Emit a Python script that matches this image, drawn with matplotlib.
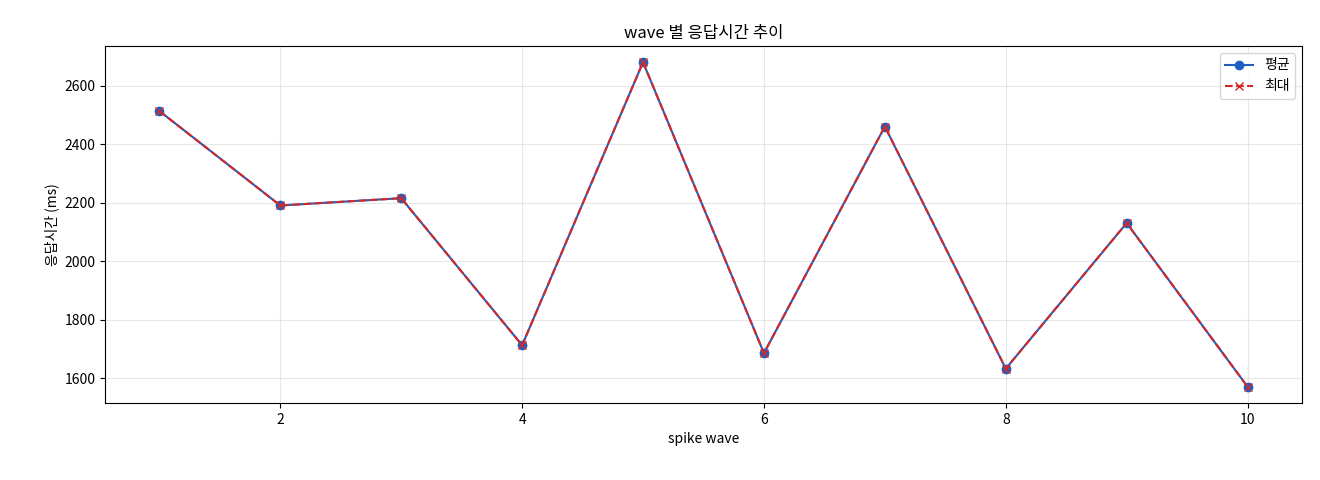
import matplotlib
matplotlib.use("Agg")
import matplotlib.pyplot as plt

plt.rcParams['font.family'] = ['Noto Sans CJK KR', 'DejaVu Sans']
plt.rcParams['axes.unicode_minus'] = False

waves = [1, 2, 3, 4, 5, 6, 7, 8, 9, 10]
avg_ms = [2513, 2190, 2215, 1712, 2680, 1685, 2460, 1632, 2130, 1570]
max_ms = [2513, 2190, 2215, 1712, 2680, 1685, 2460, 1632, 2130, 1570]

fig = plt.figure(figsize=(13.2, 4.8), dpi=100)
ax = fig.add_axes([105/1320, 1-403/480, (1302-105)/1320, (403-46)/480])
ax.plot(waves, avg_ms, marker='o', color='#1f5fbf', label='평균', linewidth=1.5, markersize=6)
ax.plot(waves, max_ms, marker='x', linestyle='--', color='#d62728', label='최대', linewidth=1.5, markersize=6)
ax.set_title('wave 별 응답시간 추이', fontsize=12)
ax.set_xlabel('spike wave', fontsize=10)
ax.set_ylabel('응답시간 (ms)', fontsize=10)
ax.grid(True, alpha=0.3)
ax.legend(loc='upper right')
fig.savefig('out.png', dpi=100)
